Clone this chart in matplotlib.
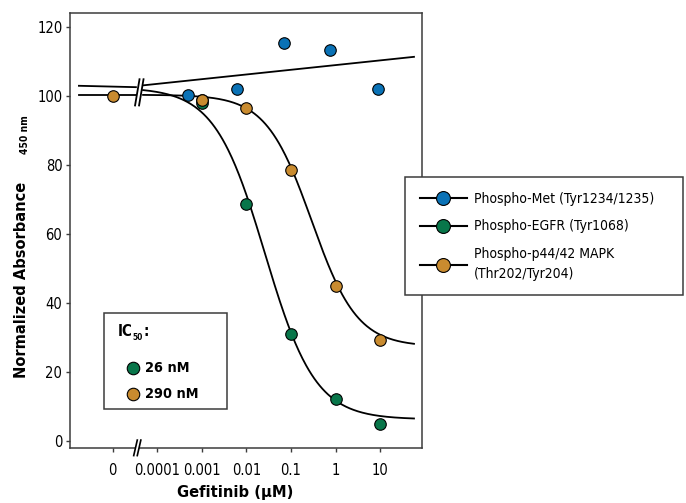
import numpy as np
import matplotlib
matplotlib.use("Agg")
import matplotlib.pyplot as plt
from matplotlib.lines import Line2D
from matplotlib.patches import Rectangle, Polygon

plt.rcParams["font.family"] = ["DejaVu Sans"]
plt.rcParams["font.stretch"] = "condensed"

# Gefitinib dose (uM); 0 is drawn one decade left of 0.0001
ZERO_POS = -5.0
BREAK_POS = -4.44

met_dose = [0.00049, 0.0062, 0.069, 0.76, 8.9]
met_resp = [100.4, 102.2, 115.5, 113.4, 102.2]

egfr_dose = [0.001, 0.01, 0.1, 1, 10]
egfr_resp = [98.0, 68.8, 31.0, 12.1, 4.9]

mapk_dose = [0, 0.001, 0.01, 0.1, 1, 10]
mapk_resp = [100.0, 98.8, 96.6, 78.6, 44.9, 29.3]

# fitted curve parameters
egfr_fit = dict(top=102.5, bottom=6.3, ic50=0.026, hill=0.77)
mapk_fit = dict(top=100.4, bottom=27.4, ic50=0.29, hill=0.85)
met_fit = dict(at_1uM=109.0, per_decade=1.36)

tick_pos = [-5, -4, -3, -2, -1, 0, 1]
tick_labels = ["0", "0.0001", "0.001", "0.01", "0.1", "1", "10"]

C_MET = "#0a72b6"
C_EGFR = "#08764a"
C_MAPK = "#c98b2f"
SPINE = "#3c3c3c"


def to_pos(dose):
    dose = np.asarray(dose, dtype=float)
    out = np.full(dose.shape, ZERO_POS)
    nz = dose > 0
    out[nz] = np.log10(dose[nz])
    return out


def logistic(lx, top, bottom, ic50, hill):
    return bottom + (top - bottom) / (1 + 10 ** ((lx - np.log10(ic50)) * hill))


fig = plt.figure(figsize=(6.86, 5.03), dpi=100)
ax = fig.add_axes([70 / 686, 55 / 503, 352 / 686, 435 / 503])
ax.set_xlim(-5.96, 1.94)
ax.set_ylim(-2.0, 124.1)

# fitted lines: short stub over the zero dose, then the curve past the break
stub = np.array([-5.76, -4.48])
lx = np.linspace(-4.32, 1.76, 300)
ax.plot(stub, [103.0, 102.6], color="black", lw=1.3, zorder=2)
ax.plot(stub, [mapk_fit["top"]] * 2, color="black", lw=1.3, zorder=2)
ax.plot(lx, met_fit["at_1uM"] + met_fit["per_decade"] * lx, color="black", lw=1.3, zorder=2)
ax.plot(lx, logistic(lx, **egfr_fit), color="black", lw=1.3, zorder=2)
ax.plot(lx, logistic(lx, **mapk_fit), color="black", lw=1.3, zorder=2)

# break marks on the curves
ax.add_patch(Polygon([(-4.50, 97.3), (-4.40, 104.9), (-4.31, 104.9), (-4.41, 97.3)],
                     closed=True, facecolor="white", edgecolor="none", zorder=3))
for dx in (0.0, 0.09):
    ax.plot([-4.50 + dx, -4.40 + dx], [97.3, 104.9], color="black", lw=1.3, zorder=4)

mk = dict(marker="o", ms=8.3, mec="black", mew=0.8, ls="none", zorder=5)
ax.plot(to_pos(mapk_dose), mapk_resp, mfc=C_MAPK, **mk)
ax.plot(to_pos(egfr_dose), egfr_resp, mfc=C_EGFR, **mk)
ax.plot(to_pos(mapk_dose)[1:2], mapk_resp[1:2], mfc=C_MAPK, **mk)
ax.plot(to_pos(met_dose), met_resp, mfc=C_MET, **mk)

# axes styling
for s in ax.spines.values():
    s.set_color(SPINE)
    s.set_linewidth(1.1)
ax.set_xticks(tick_pos)
ax.set_xticklabels(tick_labels)
ax.set_yticks(range(0, 121, 20))
ax.tick_params(axis="both", colors=SPINE, labelcolor="black", labelsize=10.5,
               length=3, width=1.0)
ax.tick_params(axis="y", pad=2.5)
ax.tick_params(axis="x", pad=8)

# break mark on the x axis
bx = BREAK_POS
ax.add_patch(Polygon([(bx - 0.09, -4.2), (bx - 0.01, 0.3), (bx + 0.07, 0.3), (bx - 0.01, -4.2)],
                     closed=True, facecolor="white", edgecolor="none", zorder=6, clip_on=False))
for dx in (0.0, 0.08):
    ax.plot([bx - 0.09 + dx, bx - 0.01 + dx], [-4.2, 0.3], color="black", lw=1.2,
            zorder=7, clip_on=False)

# axis titles
fig.text(22 / 686, 1 - 280 / 503, "Normalized Absorbance", rotation=90,
         ha="center", va="center", fontsize=11.7, fontweight="bold")
fig.text(25 / 686, 1 - 135 / 503, "450 nm", rotation=90,
         ha="center", va="center", fontsize=7.4, fontweight="bold")
fig.text(235.5 / 686, 1 - 493 / 503, "Gefitinib (µM)", ha="center", va="center",
         fontsize=11.8, fontweight="bold")

# IC50 box
ax.add_patch(Rectangle((34 / 352, 39 / 435), 123 / 352, 96 / 435, transform=ax.transAxes,
                       facecolor="white", edgecolor=SPINE, lw=1.1, zorder=8))
fig.text(118 / 686, 1 - 332 / 503, "IC", fontsize=10.8, fontweight="bold",
         ha="left", va="center", zorder=9)
fig.text(132.5 / 686, 1 - 337 / 503, "50", fontsize=6, fontweight="bold",
         ha="left", va="center", zorder=9)
fig.text(143.5 / 686, 1 - 332 / 503, ":", fontsize=10.8, fontweight="bold",
         ha="left", va="center", zorder=9)
for yy, col, lab in [(368, C_EGFR, "26 nM"), (394, C_MAPK, "290 nM")]:
    fig.add_artist(Line2D([133 / 686], [1 - yy / 503], marker="o", ms=9, mfc=col,
                          mec="black", mew=0.8, ls="none", zorder=9))
    fig.text(145 / 686, 1 - yy / 503, lab, fontsize=10.4, fontweight="bold",
             ha="left", va="center", zorder=9)

# legend
hd = dict(color="black", lw=1.5, marker="o", ms=10, mec="black", mew=0.8)
handles = [Line2D([], [], mfc=C_MET, **hd),
           Line2D([], [], mfc=C_EGFR, **hd),
           Line2D([], [], mfc=C_MAPK, **hd)]
labels = ["Phospho-Met (Tyr1234/1235)", "Phospho-EGFR (Tyr1068)",
          "Phospho-p44/42 MAPK\n(Thr202/Tyr204)"]
leg = fig.legend(handles, labels, loc="upper left",
                 bbox_to_anchor=(405 / 686, 1 - 296 / 503, 278 / 686, 119 / 503),
                 mode="expand", borderaxespad=0, fontsize=10, handlelength=3.4,
                 handletextpad=0.5, borderpad=1.05, labelspacing=1.0,
                 numpoints=1, fancybox=False, framealpha=1)
leg.get_frame().set_edgecolor(SPINE)
leg.get_frame().set_linewidth(1.1)
for t in leg.get_texts():
    t.set_linespacing(1.5)

fig.savefig("out.png", dpi=100)
